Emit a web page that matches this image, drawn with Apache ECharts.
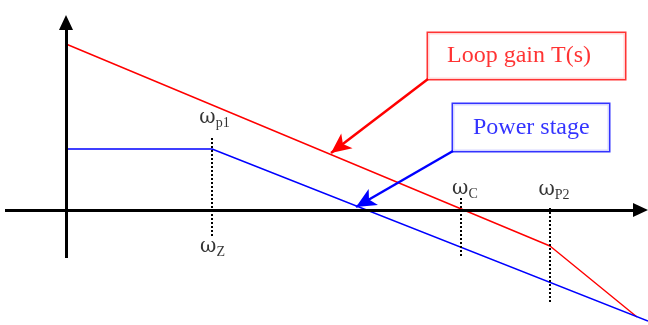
<!DOCTYPE html>
<html>
<head>
<meta charset="utf-8">
<script src="https://cdn.jsdelivr.net/npm/echarts@6/dist/echarts.min.js"></script>
<style>html,body{margin:0;padding:0;background:#fff}#c{width:648px;height:325px}</style>
</head>
<body>
<div id="c"></div>
<script>
// ---- data (conceptual units: x ~ log frequency, y ~ gain) ----
const loopGain = [[0, 16.6], [48.4, -3.6], [57.1, -10.7]];
const powerStage = [[0, 6.1], [14.6, 6.1], [58.2, -11.1]];
const markerX = [14.6, 39.5, 48.4];
const markerTop = [7.2, 1.2, 0.2];
const markerBottom = [-2.7, -4.7, -9.2];
const freqSubs = ['p1', 'Z', 'C', 'P2'];
const freqLabelX = [14.85, 14.65, 39.89, 48.8];
const freqLabelY = [9.2, -3.7, 2.15, 2.0];
const seriesNames = ['Loop gain T(s)', 'Power stage'];
const boxAnchor = [[36.2, 17.7], [38.7, 10.6]];
const arrowStart = [[36.2, 13.1], [38.7, 5.9]];
const arrowEnd = [[26.5, 5.7], [29.0, 0.3]];
const xRange = [-6.1, 58.2];
const yRange = [-11.5, 19.5];
const axisX = [[-6.1, 0], [57.45, 0]];
const axisY = [[0, -4.8], [0, 18.75]];

const FONT = '"Liberation Serif", "Times New Roman", serif';
const RED = '#ff0000', BLUE = '#0000ff';

const chart = echarts.init(document.getElementById('c'), null, {renderer: 'canvas'});
const option = {
  animation: false,
  grid: {left: 5, right: 0, top: 15, bottom: 0, containLabel: false},
  xAxis: {type: 'value', min: xRange[0], max: xRange[1], show: false},
  yAxis: {type: 'value', min: yRange[0], max: yRange[1], show: false},
  series: [
    {
      type: 'line', data: [], silent: true,
      markLine: {
        silent: true, symbol: ['none', 'triangle'], symbolSize: [14, 15],
        label: {show: false},
        lineStyle: {color: '#000', width: 3, type: 'solid'},
        data: [
          [{coord: axisX[0]}, {coord: axisX[1]}],
          [{coord: axisY[0]}, {coord: axisY[1]}]
        ]
      }
    },
    {
      name: seriesNames[0], type: 'line', data: loopGain, symbol: 'none',
      lineStyle: {color: RED, width: 1.4}, z: 3
    },
    {
      name: seriesNames[1], type: 'line', data: powerStage, symbol: 'none',
      lineStyle: {color: BLUE, width: 1.4}, z: 3
    },
    {
      type: 'line', data: [], silent: true, z: 4,
      markLine: {
        silent: true, symbol: ['none', 'none'], label: {show: false},
        lineStyle: {color: '#000', width: 2, type: [2, 2]},
        data: markerX.map((x, i) => [{coord: [x, markerTop[i]]}, {coord: [x, markerBottom[i]]}])
      }
    },
    {
      type: 'line', data: [], silent: true, z: 5,
      markLine: {
        silent: true, symbol: ['none', 'arrow'], symbolSize: [14, 20], label: {show: false},
        data: [
          [{coord: arrowStart[0], lineStyle: {color: RED, width: 2.5, type: 'solid'}, itemStyle: {color: RED}}, {coord: arrowEnd[0]}],
          [{coord: arrowStart[1], lineStyle: {color: BLUE, width: 2.5, type: 'solid'}, itemStyle: {color: BLUE}}, {coord: arrowEnd[1]}]
        ]
      }
    },
    {
      type: 'scatter', symbolSize: 0, silent: true, z: 6,
      data: freqSubs.map((s, i) => ({value: [freqLabelX[i], freqLabelY[i]], name: s})),
      label: {
        show: true, position: 'inside',
        formatter: p => '{w|ω}{s|' + p.name + '}',
        rich: {
          w: {fontFamily: '"DejaVu Serif", serif', fontSize: 20, lineHeight: 22, color: '#000'},
          s: {fontFamily: FONT, fontSize: 14, lineHeight: 22, padding: [11, 0, 0, 0], color: '#000'}
        }
      }
    },
    {
      type: 'scatter', symbolSize: 0, silent: true, z: 7,
      data: [
        {value: boxAnchor[0], name: seriesNames[0],
         label: {color: RED, borderColor: RED, width: 143, padding: [8, 35, 8, 19]}},
        {value: boxAnchor[1], name: seriesNames[1],
         label: {color: BLUE, borderColor: BLUE, width: 114, padding: [9, 22, 8, 20]}}
      ],
      label: {
        show: true, position: [0, 0], align: 'left', verticalAlign: 'top',
        formatter: p => p.name,
        fontFamily: FONT, fontSize: 24, lineHeight: 30,
        backgroundColor: '#fff', borderWidth: 1.5, overflow: 'none'
      }
    }
  ]
};
chart.setOption(option);
</script>
</body>
</html>
